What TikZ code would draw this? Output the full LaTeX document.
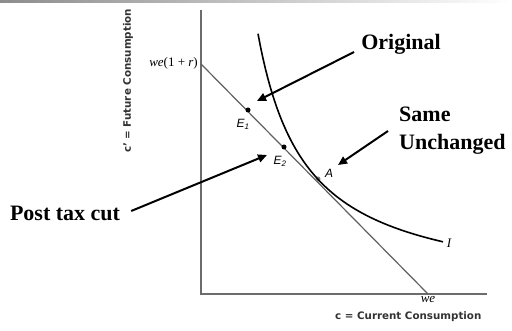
\documentclass[tikz,border=0pt]{standalone}
\usepackage{fontspec}
\setmainfont{Liberation Serif}
\newfontfamily\axisfont{DejaVu Sans}
\newfontfamily\ptfont{Liberation Sans}
\usetikzlibrary{arrows.meta,positioning}

\begin{document}
\begin{tikzpicture}[
x=1pt, y=-1pt,
axis/.style={draw=gray!85!black, line width=1.4pt},
budget/.style={draw=gray!75!black, line width=1.2pt},
curve/.style={draw=black, line width=1.6pt},
dot/.style={circle, fill=black, inner sep=0pt, minimum size=5pt},
callout/.style={font=\fontsize{22}{28}\selectfont\bfseries, inner sep=1pt, align=left},
tick/.style={font=\fontsize{13}{15}\selectfont, inner sep=1pt},
ptlabel/.style={font=\ptfont\itshape\fontsize{12}{14}\selectfont, inner sep=1pt},
axlabel/.style={font=\axisfont\bfseries\fontsize{10.3}{12}\selectfont, text=black!80, inner sep=0pt},
arrow/.style={-{Triangle[length=9pt, width=8pt]}, line width=2pt}
]
\useasboundingbox (0,0) rectangle (512,331);

% top rule
\shade[left color=gray!90, right color=white] (0,0) rectangle (512,2.5);

% axes
\coordinate (O) at (201,294);
\coordinate (ytop) at (201,10);
\coordinate (xend) at (487,294);
\draw[axis] (ytop) -- (O) -- (xend);

% budget line and points
\coordinate (Y0) at (201,64);
\coordinate (X0) at (428,294);
\draw[budget] (Y0) -- (X0);
\node[dot] (E1) at (248,110) {};
\node[dot] (E2) at (284,147) {};
\node[dot, fill=gray] (A) at (318,179) {};

% indifference curve
\draw[curve] plot[domain=48:233, samples=80] ({210+\x}, {295.8-12580/\x});

% labels
\node[tick, anchor=east] (yint) at (199,63) {\textit{we}(1 + \textit{r})};
\node[tick, below=1pt of X0] (xint) {\textit{we}};
\node[ptlabel] (lE1) at (243,124) {E\textsubscript{1}};
\node[ptlabel] (lE2) at (280,161) {E\textsubscript{2}};
\node[ptlabel] (lA) at (329,173) {A};
\node[tick, font=\itshape\fontsize{13}{15}\selectfont] (lI) at (449,243) {I};
\node[axlabel, rotate=90] (ylab) at (128,81) {c’ = Future Consumption};
\node[axlabel, anchor=west] (xlab) at (335,317) {c = Current Consumption};

% callouts
\node[callout] (orig) at (401,44) {Original};
\node[callout, anchor=west] (same) at (398,131) {Same\\Unchanged};
\node[callout] (post) at (65,213) {Post tax cut};

\coordinate (origTip) at (257,101);
\coordinate (sameTip) at (338,165);
\coordinate (postTip) at (267,155);
\draw[arrow] ([shift={(-6,8)}]orig.west) -- (origTip);
\draw[arrow] ([xshift=-10pt]same.west) -- (sameTip);
\draw[arrow] ([shift={(10,-2)}]post.east) -- (postTip);

\end{tikzpicture}
\end{document}
